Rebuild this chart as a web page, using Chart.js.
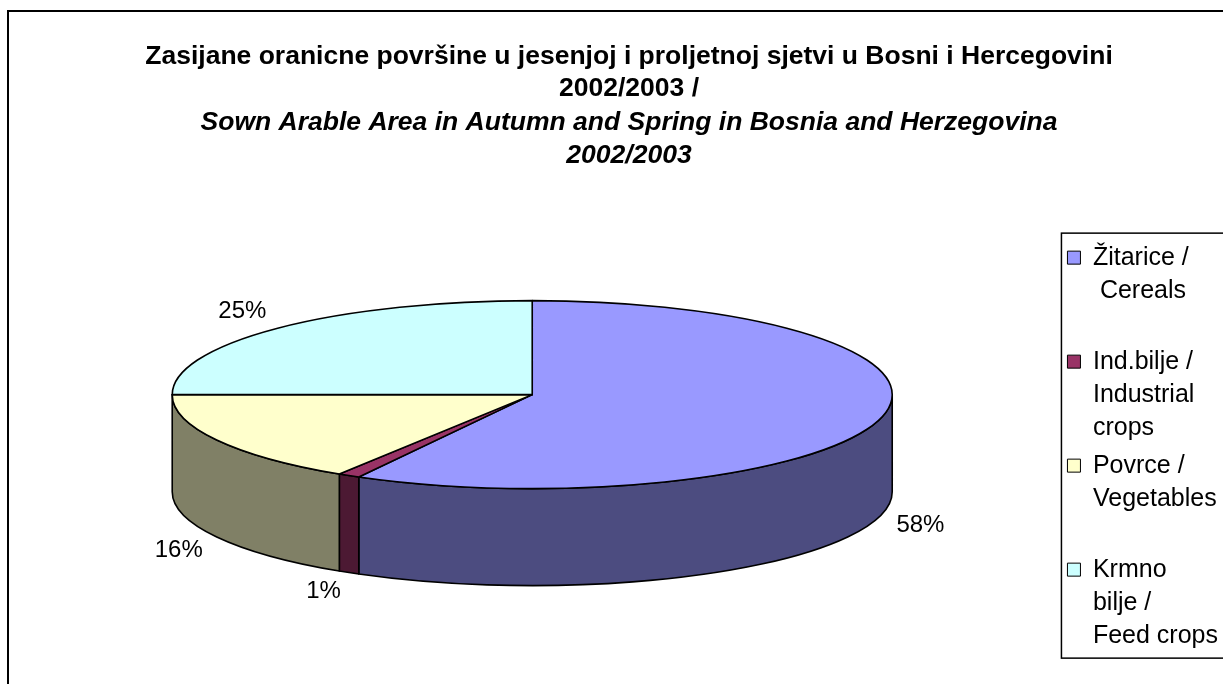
<!DOCTYPE html>
<html>
<head>
<meta charset="utf-8">
<script src="https://cdn.jsdelivr.net/npm/chart.js@4.4.1/dist/chart.umd.min.js"></script>
<style>
  html, body { margin: 0; padding: 0; background: #fff; }
  #wrap { width: 1223px; height: 684px; }
</style>
</head>
<body>
<div id="wrap"><canvas id="myChart"></canvas></div>
<script>
const categories = ['Žitarice / Cereals', 'Ind.bilje / Industrial crops', 'Povrce / Vegetables', 'Krmno bilje / Feed crops'];
// legend entries wrapped the way the original chart wraps them
const legendLines = [
    ['Žitarice /', ' Cereals', ''],
    ['Ind.bilje /', 'Industrial', 'crops'],
    ['Povrce /', 'Vegetables', ''],
    ['Krmno', 'bilje /', 'Feed crops']
];
const shares = [58, 1, 16, 25];
const topColors = ['#9999FF', '#993366', '#FFFFCC', '#CCFFFF'];
const sideColors = ['#4C4C80', '#4C1933', '#808066', '#668080'];
const titleLines = ['Zasijane oranicne površine u jesenjoj i proljetnoj sjetvi u Bosni i Hercegovini', '2002/2003 /'];
const subtitleLines = ['Sown Arable Area in Autumn and Spring in Bosnia and Herzegovina', '2002/2003'];

const FONT = "'Liberation Sans', Arial, sans-serif";
// flattened pie: ellipse radii, wall height, shift from the arc centre
const pie3d = { rx: 360, ry: 94, depth: 97, dx: -14, dy: -56 };

const threeDPie = {
    id: 'threeDPie',
    beforeDraw(chart) {
        const ctx = chart.ctx;
        ctx.save();
        ctx.fillStyle = '#fff';
        ctx.fillRect(0, 0, chart.width, chart.height);
        ctx.lineWidth = 2;
        ctx.strokeStyle = '#000';
        ctx.strokeRect(8, 11, chart.width + 20, chart.height + 20);
        ctx.restore();
    },
    beforeDatasetsDraw(chart) {
        const ctx = chart.ctx;
        const arcs = chart.getDatasetMeta(0).data;
        const cx = arcs[0].x + pie3d.dx, cy = arcs[0].y + pie3d.dy;
        const rx = pie3d.rx, ry = pie3d.ry, depth = pie3d.depth;

        ctx.save();
        ctx.lineWidth = 1.6;
        ctx.strokeStyle = '#000';
        ctx.lineJoin = 'round';

        // outer walls, only the front half shows
        arcs.forEach(function (arc, i) {
            const s = Math.max(arc.startAngle, 0), e = Math.min(arc.endAngle, Math.PI);
            if (e <= s) return;
            ctx.beginPath();
            ctx.ellipse(cx, cy, rx, ry, 0, s, e);
            ctx.lineTo(cx + rx * Math.cos(e), cy + ry * Math.sin(e) + depth);
            ctx.ellipse(cx, cy + depth, rx, ry, 0, e, s, true);
            ctx.closePath();
            ctx.fillStyle = sideColors[i];
            ctx.fill();
            ctx.stroke();
        });

        // top faces
        arcs.forEach(function (arc, i) {
            ctx.beginPath();
            ctx.moveTo(cx, cy);
            ctx.ellipse(cx, cy, rx, ry, 0, arc.startAngle, arc.endAngle);
            ctx.closePath();
            ctx.fillStyle = arc.options.backgroundColor;
            ctx.fill();
            ctx.stroke();
        });

        // percentage labels
        const total = shares.reduce((a, b) => a + b, 0);
        ctx.font = '24px ' + FONT;
        ctx.fillStyle = '#000';
        ctx.textAlign = 'center';
        ctx.textBaseline = 'middle';
        arcs.forEach(function (arc, i) {
            const a = (arc.startAngle + arc.endAngle) / 2;
            const c = Math.cos(a), s = Math.sin(a);
            const text = Math.round(shares[i] / total * 100) + '%';
            const w = ctx.measureText(text).width;
            let x = cx + rx * c, y = cy + ry * s;
            if (s > 0) y += depth;
            x += c * 16 + Math.sign(c) * w / 2;
            y += s * 14 + Math.sign(s) * 7;
            ctx.fillText(text, x, y);
        });
        ctx.restore();
        return false;
    },
    afterDraw(chart) {
        // frame round the legend, its right side runs off the picture
        const hb = chart.legend.legendHitBoxes;
        if (!hb || !hb.length) return;
        const first = hb[0], last = hb[hb.length - 1];
        const ctx = chart.ctx;
        ctx.save();
        ctx.lineWidth = 1.5;
        ctx.strokeStyle = '#000';
        const top = first.top - 12;
        ctx.strokeRect(first.left - 6, top, chart.width, last.top + last.height + 2 - top);
        ctx.restore();
    }
};

const ctx = document.getElementById('myChart');

var pieChart = new Chart(ctx, {
    type: 'pie',
    data: {
        labels: categories,
        datasets: [{
            label: 'Sown area',
            data: shares,
            backgroundColor: topColors,
            borderColor: '#000',
            borderWidth: 1
        }]
    },
    options: {
        responsive: true,
        maintainAspectRatio: false,
        animation: false,
        events: [],
        layout: { padding: { left: 30, right: -5, top: 0, bottom: 0 } },
        plugins: {
            title: {
                display: true, text: titleLines, color: '#000',
                font: { family: FONT, size: 26.5, weight: 'bold', lineHeight: 1.21 },
                padding: { top: 41, bottom: 0 }
            },
            subtitle: {
                display: true, text: subtitleLines, color: '#000',
                font: { family: FONT, size: 26.5, weight: 'bold', style: 'italic', lineHeight: 1.21 },
                padding: { top: 2, bottom: 46 }
            },
            legend: {
                display: true,
                position: 'right',
                fullSize: false,
                labels: {
                    boxWidth: 13, boxHeight: 13, padding: 5, color: '#000',
                    font: { family: FONT, size: 25, lineHeight: 1.32 },
                    generateLabels: function (chart) {
                        const items = Chart.overrides.pie.plugins.legend.labels.generateLabels(chart);
                        items.forEach(function (item, i) { item.text = legendLines[i]; });
                        return items;
                    }
                }
            },
            tooltip: { enabled: false }
        }
    },
    plugins: [threeDPie]
});
</script>
</body>
</html>
